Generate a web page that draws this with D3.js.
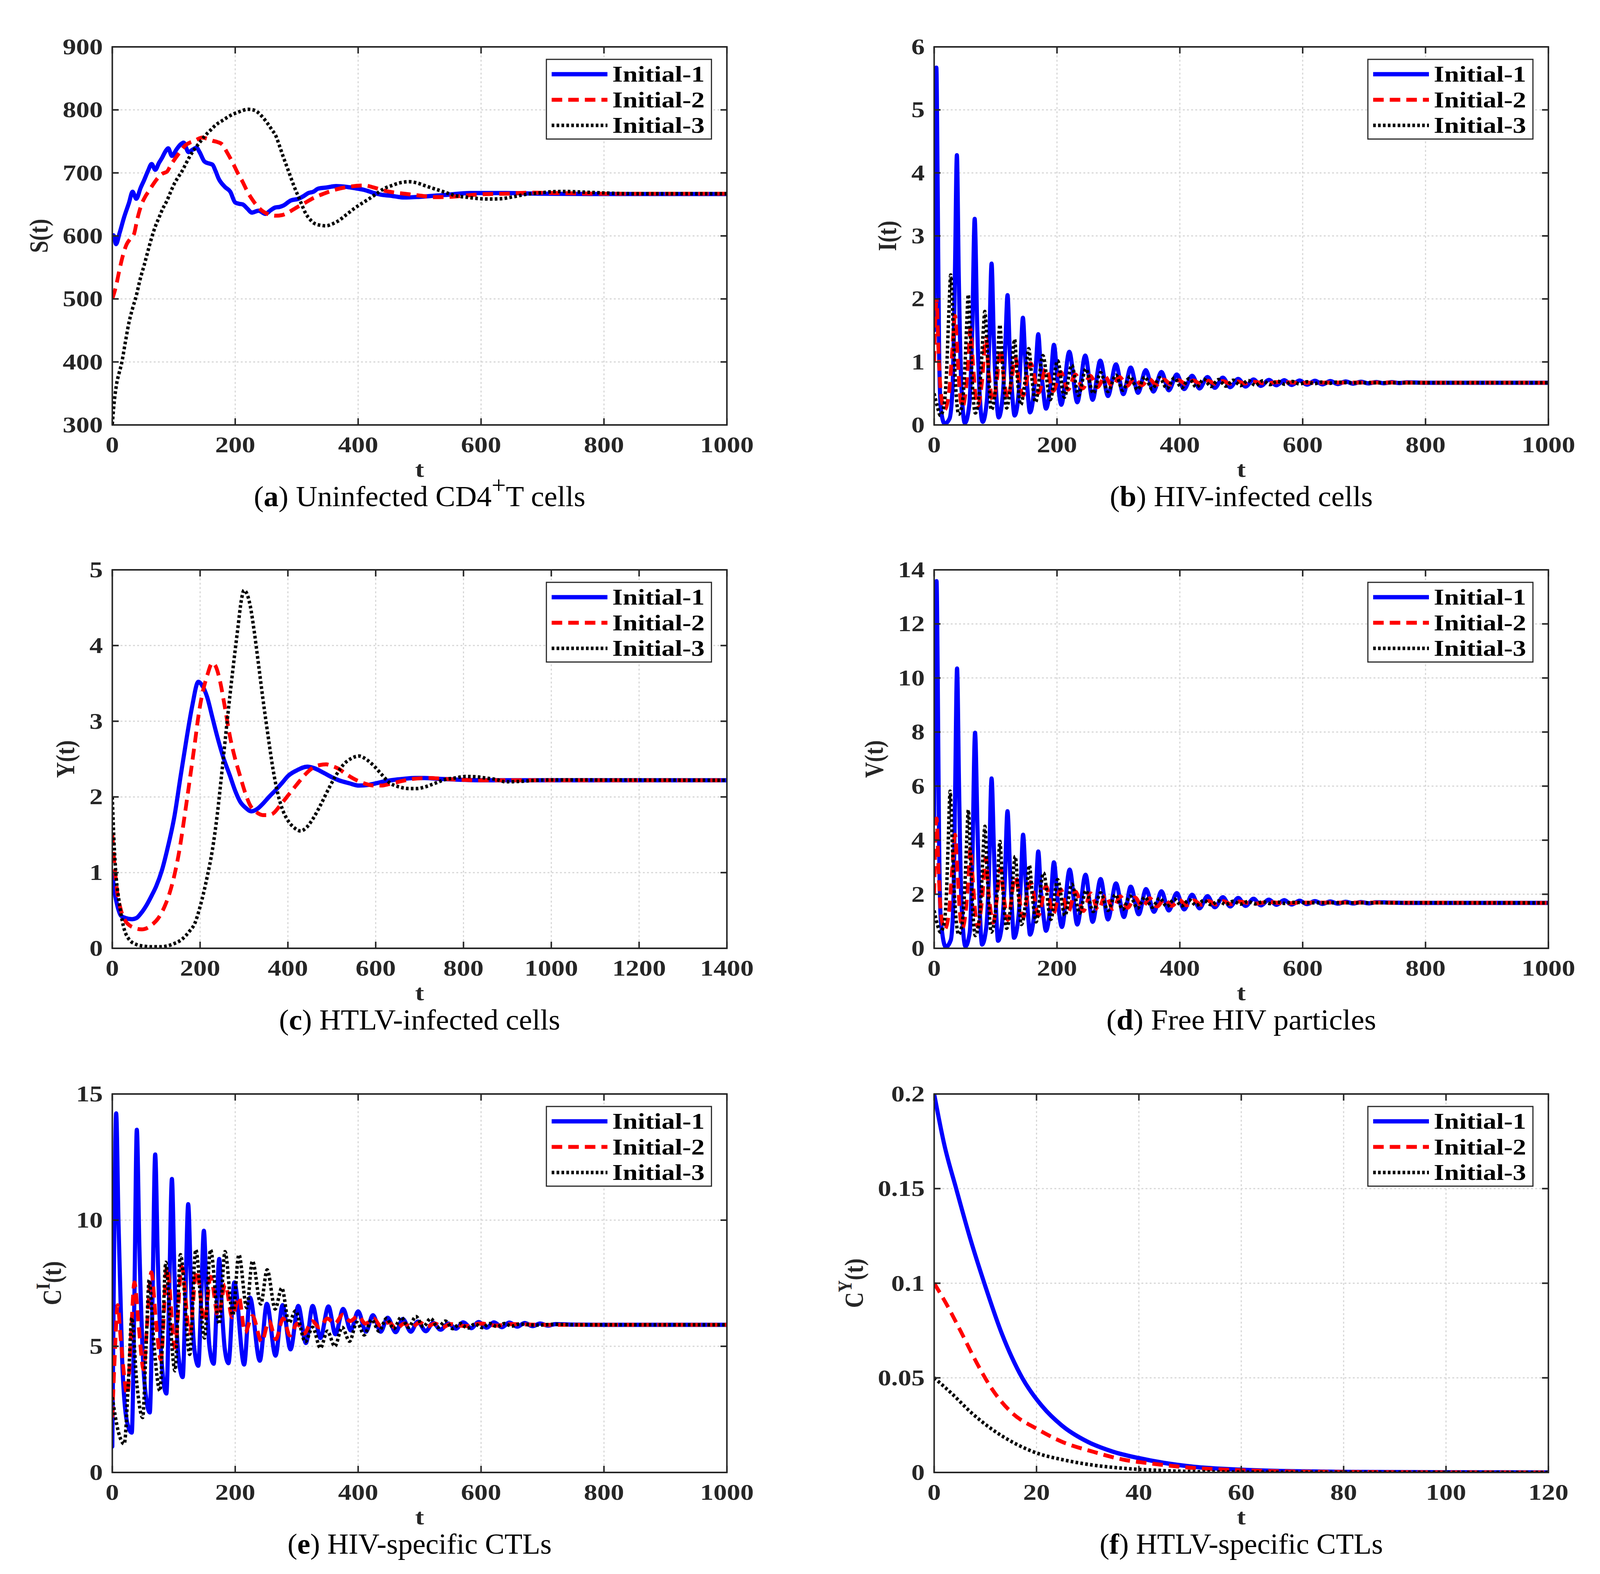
<!DOCTYPE html>
<html><head><meta charset="utf-8">
<script src="https://cdn.jsdelivr.net/npm/d3@7"></script>
<style>html,body{margin:0;padding:0;background:#fff;overflow:hidden}svg{display:block}</style>
</head><body>
<svg id="c" viewBox="0 0 4246 4030" preserveAspectRatio="none"></svg>
<script>
// ---------- DATA (t, value) ----------
const seriesNames = ["Initial-1","Initial-2","Initial-3"];

const S1 = [[0,600],[2,601],[6,587],[12,605],[19,629],[27,652],[33,670],[39,659],[46,676],[52,689],[58,703],[64,714],[70,705],[76,716],[81,724],[87,735],[91,739],[97,727],[105,738],[111,745],[116,748],[124,733],[131,737],[137,740],[142,733],[150,718],[157,715],[163,713],[168,703],[173,691],[183,678],[192,670],[200,653],[206,651],[212,650],[220,643],[227,637],[238,640],[249,635],[258,641],[265,645],[272,646],[278,648],[290,656],[303,659],[311,663],[319,668],[327,670],[335,675],[350,677],[364,679],[380,678],[393,676],[410,673],[426,668],[440,665],[451,664],[475,661],[500,662],[541,665],[582,668],[640,668],[700,667],[800,666.5],[1000,666.5]];
const S2 = [[0,500],[6,520],[11,543],[17,568],[23,586],[29,595],[35,602],[41,628],[48,651],[54,663],[60,672],[68,684],[76,694],[82,699],[89,702],[95,712],[101,721],[110,733],[118,743],[126,748],[134,751],[146,756],[155,754],[163,751],[171,749],[179,745],[187,732],[196,716],[204,700],[212,686],[220,670],[229,656],[237,646],[245,639],[255,634],[266,632],[276,633],[286,637],[298,644],[311,651],[327,660],[344,667],[365,674],[385,678],[410,680],[425,677],[442,672],[458,669],[475,667],[500,664],[525,661.5],[550,662],[574,664],[600,666],[640,667],[681,668.6],[720,668],[800,667],[1000,667]];
const S3 = [[0,301],[3,335],[7,365],[11,382],[15,397],[21,430],[27,462],[33,485],[39,505],[45,530],[52,554],[58,576],[64,597],[70,615],[76,629],[82,643],[89,656],[95,670],[101,683],[107,693],[113,702],[120,715],[126,726],[134,738],[142,748],[150,758],[159,767],[165,773],[171,778],[179,783],[187,788],[196,793],[204,796],[212,799],[220,801],[229,800],[237,796],[245,788],[253,778],[260,768],[266,759],[272,743],[278,726],[284,710],[290,694],[296,678],[303,662],[309,648],[315,635],[321,627],[327,621],[338,617],[348,616],[358,619],[368,624],[380,633],[393,643],[405,651],[418,659],[430,667],[442,675],[455,680],[467,684],[484,686],[496,684],[508,680],[520,676],[533,672],[545,668],[558,664],[580,661],[599,659],[615,658.5],[632,659],[652,662],[673,666],[693,668],[714,670],[735,670.5],[755,670],[780,669],[804,668],[850,667],[1000,667]];

const I1 = [[0,1.5],[2,4.5],[3.6,5.67],[5.5,4.0],[8,1.2],[11,0.25],[17,0.02],[25,0.1],[30,0.6],[34,2.5],[37,4.28],[40,2.4],[44,0.7],[50,0.03],[57,0.3],[62,1.5],[66,3.27],[70,1.6],[74,0.5],[79,0.05],[86,0.4],[90,1.4],[93.5,2.56],[97,1.4],[101,0.5],[105,0.12],[112,0.5],[116,1.3],[119.5,2.06],[123,1.2],[127,0.5],[131,0.15],[138,0.55],[141,1.1],[144.5,1.70],[148,1.1],[152,0.55],[156,0.2],[163,0.6],[166,1.0],[169.5,1.44],[173,1.0],[177,0.6],[182,0.26],[189,0.6],[195,1.27],[201,0.7],[207,0.32],[220,1.16],[233,0.36],[246,1.10],[258,0.40],[270.5,1.02],[283,0.46],[296,0.96],[308,0.49],[320,0.91],[332,0.51],[344.5,0.87],[357,0.53],[370,0.84],[382,0.55],[395,0.80],[407,0.57],[420,0.78],[432,0.58],[445,0.76],[457,0.59],[470,0.75],[482,0.60],[495,0.73],[507,0.61],[520,0.72],[532,0.62],[545,0.715],[557,0.63],[570,0.71],[582,0.635],[595,0.705],[607,0.64],[620,0.70],[632,0.645],[645,0.695],[657,0.65],[670,0.69],[682,0.655],[695,0.685],[707,0.66],[720,0.68],[732,0.662],[745,0.678],[757,0.665],[770,0.675],[800,0.67],[1000,0.67]];
const I2 = [[0,1.0],[2,1.7],[4,1.97],[7,1.2],[11,0.5],[17,0.24],[24,0.5],[29,1.1],[34,1.73],[38,1.1],[42,0.5],[46,0.28],[52,0.6],[56,1.1],[59,1.53],[63,1.0],[67,0.5],[71,0.3],[78,0.7],[84,1.38],[89,0.8],[96,0.38],[102,0.7],[108,1.2],[114,0.7],[120,0.43],[126,0.7],[132,1.08],[138,0.7],[145,0.47],[157,0.98],[170,0.51],[182,0.9],[194,0.54],[206,0.84],[218,0.56],[230,0.80],[242,0.58],[254,0.78],[266,0.60],[278,0.77],[290,0.61],[302,0.76],[314,0.62],[326,0.74],[338,0.63],[350,0.73],[362,0.635],[374,0.72],[386,0.64],[398,0.71],[410,0.645],[422,0.705],[434,0.65],[446,0.70],[458,0.652],[470,0.695],[482,0.655],[494,0.69],[506,0.658],[518,0.685],[540,0.66],[560,0.68],[600,0.668],[650,0.672],[1000,0.67]];
const I3 = [[0,0.5],[5,0.3],[10,0.15],[16,0.3],[20,0.8],[24,1.8],[27,2.38],[30,1.8],[34,0.8],[40,0.17],[46,0.35],[50,0.9],[53,1.6],[55.5,2.07],[58.5,1.5],[62,0.7],[67,0.19],[73,0.45],[77,1.0],[80,1.5],[82.5,1.80],[86,1.3],[89,0.7],[93,0.24],[99,0.5],[103,1.0],[107,1.59],[110.5,1.1],[114,0.6],[118,0.27],[125,0.7],[131,1.36],[135,0.8],[141,0.32],[148,0.7],[154,1.21],[159,0.75],[165,0.36],[177,1.10],[189,0.40],[201,1.02],[212,0.44],[224,0.95],[235,0.47],[247,0.89],[259,0.50],[271,0.83],[283,0.53],[296,0.79],[307,0.55],[319,0.77],[331,0.56],[343,0.76],[355,0.57],[367,0.75],[379,0.58],[391,0.745],[403,0.59],[415,0.735],[427,0.60],[439,0.725],[451,0.61],[463,0.72],[475,0.615],[487,0.71],[499,0.625],[511,0.705],[523,0.63],[535,0.70],[547,0.64],[559,0.695],[571,0.645],[583,0.69],[595,0.65],[607,0.685],[619,0.655],[631,0.68],[643,0.66],[655,0.678],[680,0.67],[1000,0.67]];

const Y1 = [[0,1.0],[5,0.75],[10,0.6],[20,0.43],[30,0.4],[45,0.385],[55,0.4],[65,0.46],[78,0.57],[90,0.7],[100,0.82],[113,1.03],[125,1.3],[142,1.76],[155,2.25],[170,2.8],[182,3.2],[196,3.52],[205,3.47],[216,3.32],[228,3.05],[239,2.8],[253,2.52],[268,2.28],[280,2.08],[291,1.94],[303,1.86],[317,1.81],[330,1.84],[343,1.91],[357,2.0],[372,2.09],[386,2.18],[401,2.28],[420,2.35],[444,2.40],[460,2.38],[481,2.32],[500,2.26],[516,2.22],[540,2.18],[562,2.15],[585,2.16],[608,2.19],[635,2.22],[665,2.24],[690,2.25],[711,2.25],[740,2.24],[780,2.23],[850,2.22],[1400,2.22]];
const Y2 = [[0,1.5],[5,1.1],[10,0.8],[20,0.5],[30,0.36],[40,0.3],[50,0.27],[67,0.25],[80,0.27],[90,0.31],[105,0.4],[119,0.55],[130,0.72],[142,0.98],[153,1.3],[165,1.76],[177,2.25],[188,2.71],[197,3.1],[205,3.36],[216,3.6],[228,3.77],[236,3.72],[245,3.54],[256,3.2],[268,2.8],[280,2.5],[291,2.28],[303,2.05],[314,1.89],[328,1.8],[343,1.76],[355,1.76],[366,1.78],[380,1.87],[395,1.98],[410,2.09],[424,2.19],[440,2.3],[458,2.39],[472,2.42],[487,2.43],[500,2.41],[516,2.37],[533,2.3],[550,2.24],[573,2.18],[596,2.15],[613,2.15],[631,2.17],[660,2.21],[688,2.24],[723,2.25],[750,2.24],[780,2.23],[850,2.22],[1400,2.22]];
const Y3 = [[0,2.0],[4,1.4],[8,1.0],[15,0.64],[25,0.3],[38,0.12],[55,0.05],[70,0.03],[90,0.02],[110,0.02],[124,0.03],[140,0.06],[159,0.12],[175,0.22],[188,0.33],[200,0.55],[216,0.94],[228,1.3],[239,1.76],[250,2.35],[262,3.02],[274,3.65],[286,4.23],[294,4.6],[300,4.73],[307,4.68],[314,4.53],[323,4.2],[332,3.8],[343,3.3],[355,2.8],[366,2.37],[378,2.02],[390,1.8],[401,1.68],[415,1.59],[429,1.55],[443,1.6],[458,1.72],[475,1.9],[493,2.11],[510,2.29],[527,2.43],[545,2.51],[562,2.54],[580,2.49],[596,2.41],[613,2.3],[631,2.19],[655,2.13],[677,2.11],[694,2.11],[711,2.13],[735,2.18],[758,2.23],[780,2.25],[804,2.27],[830,2.265],[850,2.25],[875,2.23],[896,2.2],[930,2.205],[965,2.22],[1000,2.225],[1400,2.22]];

const V1 = [[0,4.8],[2,11.5],[3.9,13.58],[5.8,10],[8,4],[11,1.0],[19,0.05],[27,0.3],[31,1.5],[34,5.5],[37.3,10.35],[40.5,6],[44,2],[51,0.07],[58,0.6],[62,3.0],[66.6,7.97],[70.5,4.5],[74,1.6],[78,0.14],[85,0.8],[89,2.6],[93.5,6.28],[97.5,3.5],[101,1.3],[104,0.28],[111,1.0],[115,2.5],[119.4,5.07],[123.5,2.9],[127,1.3],[130,0.39],[137,1.1],[141,2.4],[144.8,4.2],[149,2.5],[153,1.2],[156,0.51],[163,1.3],[166,2.3],[169.5,3.58],[173.5,2.2],[178,1.2],[182,0.65],[189,1.5],[195,3.18],[201,1.8],[208,0.79],[220.6,2.91],[233,0.88],[246.5,2.72],[258,0.98],[271,2.56],[283,1.07],[296,2.40],[309,1.16],[320,2.28],[333,1.26],[345,2.19],[358,1.35],[370,2.11],[382,1.40],[395,2.04],[407,1.44],[420,1.98],[432,1.48],[445,1.93],[457,1.52],[470,1.89],[482,1.55],[495,1.86],[507,1.57],[520,1.83],[532,1.59],[545,1.80],[557,1.61],[570,1.78],[582,1.62],[595,1.76],[607,1.635],[620,1.745],[632,1.645],[645,1.73],[657,1.655],[670,1.72],[682,1.66],[695,1.71],[707,1.665],[720,1.70],[745,1.69],[770,1.68],[1000,1.68]];
const V2 = [[0,2.0],[2,4.0],[4,4.8],[7,3.0],[11,1.3],[17,0.7],[24,1.3],[29,2.8],[34,4.2],[38,2.8],[42,1.3],[46,0.75],[52,1.5],[56,2.7],[59,3.7],[63,2.5],[67,1.3],[71,0.8],[78,1.8],[84,3.35],[89,2.0],[96,0.95],[102,1.8],[108,2.95],[114,1.8],[120,1.05],[132,2.65],[145,1.15],[157,2.45],[170,1.22],[182,2.3],[194,1.28],[206,2.18],[218,1.33],[230,2.10],[243,1.38],[255,2.03],[267,1.42],[279,1.97],[291,1.46],[303,1.92],[315,1.50],[327,1.88],[339,1.53],[351,1.85],[363,1.55],[375,1.82],[387,1.57],[399,1.79],[411,1.59],[423,1.77],[435,1.61],[447,1.75],[459,1.62],[471,1.74],[483,1.635],[495,1.73],[520,1.65],[545,1.71],[570,1.665],[600,1.69],[1000,1.68]];
const V3 = [[0,1.4],[5,0.9],[10,0.6],[16,0.9],[20,2.0],[23,4.0],[26,5.81],[29,4.2],[33,2.0],[40,0.51],[46,1.0],[50,2.3],[53,4.0],[55.7,5.12],[59,3.5],[62,1.8],[67,0.47],[73,1.0],[77,2.2],[80,3.7],[82.6,4.51],[86,3.0],[89,1.6],[93,0.6],[99,1.2],[103,2.3],[107,3.95],[111,2.5],[114,1.5],[118,0.74],[125,1.6],[132,3.4],[137,2.0],[142,0.88],[150,1.9],[155,3.07],[160,1.9],[166,0.98],[178,2.79],[190,1.07],[201,2.54],[213,1.21],[224,2.37],[237,1.30],[247,2.14],[259,1.36],[271,2.05],[283,1.40],[295,1.98],[307,1.44],[319,1.93],[331,1.48],[343,1.89],[355,1.52],[367,1.85],[379,1.55],[391,1.82],[403,1.57],[415,1.79],[427,1.59],[439,1.77],[451,1.61],[463,1.75],[475,1.625],[487,1.74],[499,1.635],[511,1.73],[523,1.645],[535,1.72],[547,1.655],[559,1.71],[571,1.66],[583,1.70],[610,1.685],[1000,1.68]];

const CI1 = [[0,1.03],[3,9],[6.3,14.23],[10,10],[16,4.5],[24,2.0],[31.7,1.58],[36,7],[39.9,13.58],[44,9],[50,4.5],[56,2.8],[61,2.38],[65.5,7],[69.8,12.6],[74,8.5],[80,4.5],[88,3.13],[92.5,7],[97,11.63],[101,8],[107,4.8],[114.6,3.78],[119,7],[123.5,10.63],[128,7.5],[133,5],[140,4.23],[144.5,6.8],[149,9.58],[153.5,7],[158,5],[165,4.31],[169.5,6.4],[174,8.46],[178.5,6.4],[183,4.9],[189,4.33],[198.6,7.53],[214.5,4.28],[224,6.93],[240,4.43],[251.5,6.68],[265.6,4.63],[277,6.63],[290,4.88],[302.6,6.6],[315,5.13],[326,6.6],[338.6,5.33],[351.7,6.58],[363,5.48],[375.7,6.48],[388,5.63],[400,6.38],[412.7,5.58],[424,6.23],[436.7,5.58],[448,6.13],[461,5.56],[472.7,6.08],[485.7,5.58],[497,5.98],[510,5.6],[522,5.93],[534,5.66],[546.7,5.9],[559,5.7],[571,5.95],[584,5.72],[596,5.96],[609,5.74],[621,5.95],[634,5.76],[646,5.94],[659,5.78],[671,5.92],[684,5.8],[696,5.9],[709,5.82],[721,5.88],[746,5.86],[800,5.85],[1000,5.85]];
const CI2 = [[0,2.18],[4,4.6],[8.8,6.63],[14,5.2],[24.7,3.08],[30,5.2],[36,7.53],[43,5.8],[51,4.08],[57,6.0],[63.5,7.93],[71,6.0],[79,4.48],[89,8.15],[102,4.95],[113,8.15],[126,5.5],[137,8.0],[150,6.0],[160,7.75],[172,6.2],[184,7.45],[195,6.15],[206,6.95],[216,5.55],[228,6.2],[243,5.18],[255,6.0],[266,5.28],[278,6.1],[289,5.43],[301,5.9],[312,5.5],[325,6.0],[337,5.75],[350,6.1],[362,5.9],[375,6.25],[387,6.0],[400,6.2],[412,5.9],[425,6.1],[437,5.8],[450,5.95],[462,5.7],[475,5.9],[487,5.75],[500,5.95],[512,5.78],[525,5.9],[537,5.75],[550,5.88],[575,5.8],[600,5.9],[625,5.82],[650,5.88],[700,5.85],[1000,5.85]];
const CI3 = [[0,2.98],[10,1.6],[19.4,1.13],[26,3.5],[31.7,6.13],[40,3.5],[49.4,2.18],[55,5],[60,7.63],[68,5],[77.6,3.23],[82,5.5],[87,8.33],[94,6],[102,4.03],[111,8.63],[126,4.68],[135.8,8.83],[150,5.33],[159.8,8.83],[174,5.88],[183.4,8.75],[196,6.23],[206,8.63],[218.7,6.53],[228,8.38],[241.6,6.68],[252,8.03],[265,6.48],[275.8,7.31],[287.5,5.93],[298,6.4],[314,5.18],[326,5.75],[338.6,4.93],[350,5.6],[362,5.0],[374,5.75],[386,5.2],[398,5.95],[410,5.45],[422,6.05],[434,5.6],[446,6.1],[458,5.7],[470,6.15],[482,5.75],[494,6.18],[506,5.78],[518,6.1],[530,5.75],[542,6.0],[554,5.7],[566,5.9],[578,5.72],[590,5.88],[602,5.74],[614,5.9],[626,5.78],[638,5.9],[650,5.8],[662,5.88],[690,5.84],[720,5.87],[760,5.85],[1000,5.85]];

const CY1 = [[0,0.2],[2,0.173],[4.3,0.15],[7,0.124],[9.8,0.1],[13.2,0.0735],[17.2,0.05],[21.1,0.035],[25,0.0247],[30,0.0162],[34.9,0.011],[39.8,0.0077],[44.8,0.0051],[50.7,0.003],[59.6,0.0015],[69,0.0007],[80,0.0003],[100,0.0001],[120,0]];
const CY2 = [[0,0.1],[2.4,0.089],[5.3,0.074],[8.3,0.058],[11.2,0.0445],[15.2,0.0315],[20.1,0.023],[25,0.0162],[31,0.011],[36.9,0.0068],[42.8,0.0046],[49.7,0.0026],[59.6,0.0012],[70,0.0005],[85,0.0002],[120,0]];
const CY3 = [[0,0.05],[3.4,0.0418],[7.3,0.0315],[11.2,0.023],[15.2,0.0162],[20.1,0.0102],[25,0.0068],[31,0.0039],[37,0.0022],[44.8,0.001],[54.6,0.0003],[70,0.0001],[120,0]];

// tick values
const tTicks1000 = [0,200,400,600,800,1000];
const tTicks1400 = [0,200,400,600,800,1000,1200,1400];
const tTicks120 = [0,20,40,60,80,100,120];
const sTicks = [300,400,500,600,700,800,900];
const iTicks = [0,1,2,3,4,5,6];
const yTicks = [0,1,2,3,4,5];
const vTicks = [0,2,4,6,8,10,12,14];
const ciTicks = [0,5,10,15];
const cyTicks = [0,0.05,0.1,0.15,0.2];

// ---------- LAYOUT / STYLE ----------
const SX = 1.27;
const FONT = "'Liberation Serif','Times New Roman',Times,serif";
const AX = "#262626";
const colX = [[298,1929],[2479,4109]];
const rowY = [[120,1088],[1459,2428],[2801,3770]];
const styles = [
  {color:"#0000ff", dash:null, w:11},
  {color:"#ff0000", dash:"28,16", w:10},
  {color:"#000000", dash:"7,6", w:9}
];

const panels = [
  {col:0,row:0,xd:[0,1000],xt:tTicks1000,yd:[300,900],yt:sTicks,series:[S1,S2,S3],
   ylab:[{t:"S(t)"}], cap:[{t:"("},{t:"a",b:1},{t:") Uninfected CD4"},{t:"+",sup:1},{t:"T cells",back:1}], capW:880},
  {col:1,row:0,xd:[0,1000],xt:tTicks1000,yd:[0,6],yt:iTicks,series:[I1,I2,I3],
   ylab:[{t:"I(t)"}], cap:[{t:"("},{t:"b",b:1},{t:") HIV-infected cells"}], capW:698},
  {col:0,row:1,xd:[0,1400],xt:tTicks1400,yd:[0,5],yt:yTicks,series:[Y1,Y2,Y3],
   ylab:[{t:"Y(t)"}], cap:[{t:"("},{t:"c",b:1},{t:") HTLV-infected cells"}], capW:746},
  {col:1,row:1,xd:[0,1000],xt:tTicks1000,yd:[0,14],yt:vTicks,series:[V1,V2,V3],
   ylab:[{t:"V(t)"}], cap:[{t:"("},{t:"d",b:1},{t:") Free HIV particles"}], capW:716},
  {col:0,row:2,xd:[0,1000],xt:tTicks1000,yd:[0,15],yt:ciTicks,series:[CI1,CI2,CI3],
   ylab:[{t:"C"},{t:"I",sup:1},{t:"(t)",back:1}], cap:[{t:"("},{t:"e",b:1},{t:") HIV-specific CTLs"}], capW:701},
  {col:1,row:2,xd:[0,120],xt:tTicks120,yd:[0,0.2],yt:cyTicks,series:[CY1,CY2,CY3],
   ylab:[{t:"C"},{t:"Y",sup:1},{t:"(t)",back:1}], cap:[{t:"("},{t:"f",b:1},{t:") HTLV-specific CTLs"}], capW:752}
];

const svg = d3.select("#c")
  .attr("width", window.innerWidth).attr("height", window.innerHeight);
svg.append("rect").attr("width",4246).attr("height",4030).attr("fill","#fff");

function rich(sel, parts, size, supScale){
  parts.forEach(p=>{
    const ts = sel.append("tspan").text(p.t);
    if(p.b) ts.attr("font-weight","bold");
    if(p.sup) ts.attr("font-size", size*supScale).attr("dy", -size*0.42);
    if(p.back) ts.attr("dy", size*0.42);
  });
}

panels.forEach((p,pi)=>{
  const [L,R] = colX[p.col], [T,B] = rowY[p.row];
  const x = d3.scaleLinear().domain(p.xd).range([L,R]);
  const y = d3.scaleLinear().domain(p.yd).range([B,T]);
  const g = svg.append("g");
  const cid = "clip"+pi;
  g.append("clipPath").attr("id",cid).append("rect").attr("x",L).attr("y",T).attr("width",R-L).attr("height",B-T);

  const grid = g.append("g").attr("stroke","#d6d6d6").attr("stroke-width",3).attr("stroke-dasharray","5,6");
  p.xt.slice(1,-1).forEach(v=>grid.append("line").attr("x1",x(v)).attr("x2",x(v)).attr("y1",T).attr("y2",B));
  p.yt.slice(1,-1).forEach(v=>grid.append("line").attr("y1",y(v)).attr("y2",y(v)).attr("x1",L).attr("x2",R));

  const line = d3.line().x(d=>x(d[0])).y(d=>y(d[1])).curve(d3.curveMonotoneX);
  const lg = g.append("g").attr("clip-path",`url(#${cid})`);
  p.series.forEach((s,si)=>{
    const st = styles[si];
    const path = lg.append("path").datum(s).attr("d",line).attr("fill","none")
      .attr("stroke",st.color).attr("stroke-width",st.w).attr("stroke-linejoin","round");
    if(st.dash) path.attr("stroke-dasharray",st.dash).attr("stroke-linecap","butt");
    else path.attr("stroke-linecap","round");
  });

  const TL = 17;
  const ax = g.append("g").attr("stroke",AX).attr("stroke-width",4).attr("fill","none");
  p.xt.forEach(v=>{
    ax.append("line").attr("x1",x(v)).attr("x2",x(v)).attr("y1",B).attr("y2",B-TL);
    ax.append("line").attr("x1",x(v)).attr("x2",x(v)).attr("y1",T).attr("y2",T+TL);
  });
  p.yt.forEach(v=>{
    ax.append("line").attr("y1",y(v)).attr("y2",y(v)).attr("x1",L).attr("x2",L+TL);
    ax.append("line").attr("y1",y(v)).attr("y2",y(v)).attr("x1",R).attr("x2",R-TL);
  });
  ax.append("rect").attr("x",L).attr("y",T).attr("width",R-L).attr("height",B-T);

  const txt = g.append("g").attr("font-family",FONT).attr("font-weight","bold").attr("fill",AX).attr("font-size",56);
  p.xt.forEach(v=>{
    txt.append("text").attr("transform",`translate(${x(v)},${B+70}) scale(${SX},1)`)
      .attr("text-anchor","middle").text(String(v));
  });
  let maxW = 0;
  p.yt.forEach(v=>{
    const t = txt.append("text").attr("transform",`translate(${L-25},${y(v)}) scale(${SX},1)`)
      .attr("text-anchor","end").attr("dy","0.34em").text(String(v));
    maxW = Math.max(maxW, t.node().getBBox().width*SX);
  });
  txt.append("text").attr("transform",`translate(${(L+R)/2},${B+133}) scale(${SX},1)`)
    .attr("text-anchor","middle").text("t");
  const yl = txt.append("text").attr("transform",`translate(${L-25-maxW-40},${(T+B)/2}) scale(${SX},1) rotate(-90)`)
    .attr("text-anchor","middle");
  rich(yl, p.ylab, 56, 0.75);

  const LW = 438, LH = 204;
  const lx = R-41-LW, ly = T+32;
  const leg = g.append("g");
  leg.append("rect").attr("x",lx).attr("y",ly).attr("width",LW).attr("height",LH)
    .attr("fill","#fff").attr("stroke",AX).attr("stroke-width",3);
  seriesNames.forEach((n,i)=>{
    const cy = ly+38+i*65.5, st = styles[i];
    const l = leg.append("line").attr("x1",lx+14).attr("x2",lx+162).attr("y1",cy).attr("y2",cy)
      .attr("stroke",st.color).attr("stroke-width",st.w);
    if(st.dash) l.attr("stroke-dasharray",st.dash);
    leg.append("text").attr("transform",`translate(${lx+175},${cy}) scale(${SX},1)`)
      .attr("dy","0.34em").attr("font-family",FONT).attr("font-weight","bold").attr("font-size",56)
      .attr("fill","#000").text(n);
  });

  const cap = g.append("text").attr("x",(L+R)/2).attr("y",B+208).attr("text-anchor","middle")
    .attr("font-family",FONT).attr("font-size",75).attr("fill","#000")
    .attr("textLength",p.capW).attr("lengthAdjust","spacingAndGlyphs");
  rich(cap, p.cap, 75, 0.85);
});
</script>
</body></html>
